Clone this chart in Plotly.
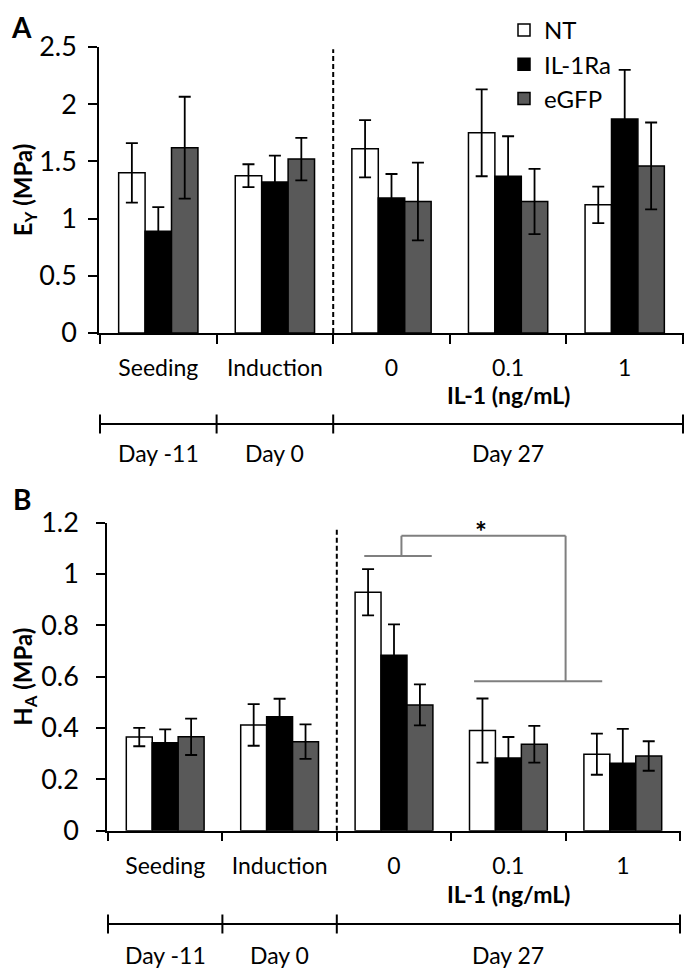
import plotly.graph_objects as go

# ---------------- data ----------------
categories = ["Seeding", "Induction", "0", "0.1", "1"]
series_names = ["NT", "IL-1Ra", "eGFP"]
series_colors = ["#ffffff", "#000000", "#595959"]

# Panel A: E_Y (MPa)
ey_nt = [1.40, 1.375, 1.61, 1.75, 1.12]
ey_nt_err = [0.26, 0.10, 0.25, 0.38, 0.16]
ey_il = [0.89, 1.32, 1.18, 1.37, 1.87]
ey_il_err = [0.21, 0.23, 0.21, 0.35, 0.43]
ey_gfp = [1.62, 1.52, 1.15, 1.15, 1.46]
ey_gfp_err = [0.445, 0.185, 0.34, 0.285, 0.38]

# Panel B: H_A (MPa)
ha_nt = [0.365, 0.412, 0.929, 0.39, 0.298]
ha_nt_err = [0.036, 0.081, 0.090, 0.125, 0.080]
ha_il = [0.343, 0.444, 0.684, 0.283, 0.263]
ha_il_err = [0.052, 0.070, 0.120, 0.082, 0.134]
ha_gfp = [0.366, 0.347, 0.49, 0.337, 0.291]
ha_gfp_err = [0.071, 0.067, 0.080, 0.0715, 0.0575]

day_labels = ["Day -11", "Day 0", "Day 27"]
day_spans = [1, 1, 3]          # number of categories each day covers

FONT = "Lato"
FS = 23       # category / legend text
FS_Y = 27     # y tick labels

# page has an 8px body margin; figure sized to fit the window
OFF = 8
W, H = 687, 970
def px(p):  # window pixel x -> paper x
    return (p - OFF) / W
def py(p):  # window pixel y (from top) -> paper y
    return 1 - (p - OFF) / H

fig = go.Figure()

panels = [
    dict(x="x", y="y", vals=[ey_nt, ey_il, ey_gfp], errs=[ey_nt_err, ey_il_err, ey_gfp_err], legend=True),
    dict(x="x2", y="y2", vals=[ha_nt, ha_il, ha_gfp], errs=[ha_nt_err, ha_il_err, ha_gfp_err], legend=False),
]
for p in panels:
    for name, col, v, e in zip(series_names, series_colors, p["vals"], p["errs"]):
        fig.add_trace(go.Bar(
            x=categories, y=v, name=name, xaxis=p["x"], yaxis=p["y"],
            marker=dict(color=col, line=dict(color="black", width=1.5)),
            error_y=dict(type="data", array=e, visible=True, color="black", thickness=1.8, width=6),
            showlegend=p["legend"],
        ))

axis_common = dict(showgrid=False, zeroline=False, showline=True, linecolor="black", linewidth=1.5,
                   ticks="outside", ticklen=9, tickwidth=1.5, tickcolor="black", automargin=False)
xfont = dict(family=FONT, size=FS, color="black")
yfont = dict(family=FONT, size=FS_Y, color="black")
tfont = dict(family=FONT, size=24, color="black", weight="bold")

fig.update_layout(
    width=W, height=H, margin=dict(l=0, r=0, t=0, b=0),
    template="none", plot_bgcolor="white", paper_bgcolor="white",
    barmode="group", bargap=0.32, bargroupgap=0,
    font=dict(family=FONT, size=FS, color="black"),
    xaxis=dict(domain=[px(99), px(684)], anchor="y", type="category", tickson="boundaries",
               ticklabelstandoff=14, tickfont=xfont, **axis_common),
    yaxis=dict(domain=[py(333), py(47)], anchor="x", range=[0, 2.5], dtick=0.5,
               ticklabelstandoff=6, tickfont=yfont,
               title=dict(text="E<sub>Y</sub> (MPa)", font=tfont, standoff=8), **axis_common),
    xaxis2=dict(domain=[px(107), px(681)], anchor="y2", type="category", tickson="boundaries",
                ticklabelstandoff=14, tickfont=xfont, **axis_common),
    yaxis2=dict(domain=[py(830.7), py(522.7)], anchor="x2", range=[0, 1.2], dtick=0.2,
                ticklabelstandoff=12, tickfont=yfont,
                title=dict(text="H<sub>A</sub> (MPa)", font=tfont, standoff=8), **axis_common),
    legend=dict(x=px(504), y=py(8), xanchor="left", yanchor="top", bgcolor="rgba(0,0,0,0)",
                font=dict(family=FONT, size=FS + 1, color="black"), itemclick=False),
)

shapes = []
annotations = []

# vertical dashed separators between Induction and IL-1 groups
for xr, yr, top in [("x", "y", 2.48), ("x2", "y2", 1.175)]:
    shapes.append(dict(type="line", xref=xr, yref=yr, x0=1.5, x1=1.5, y0=0, y1=top,
                       line=dict(color="black", width=2, dash="5px,3px")))

# timeline under each panel
bounds = [-0.5]
for s in day_spans:
    bounds.append(bounds[-1] + s)
for xr, yline, ylab, yil in [("x", 424, 453, 395), ("x2", 924, 955, 894)]:
    shapes.append(dict(type="line", xref=xr, yref="paper", x0=bounds[0], x1=bounds[-1],
                       y0=py(yline), y1=py(yline), line=dict(color="black", width=2)))
    for b in bounds:
        shapes.append(dict(type="line", xref=xr, yref="paper", x0=b, x1=b,
                           y0=py(yline - 9.5), y1=py(yline + 9.5), line=dict(color="black", width=2)))
    for lab, a, b in zip(day_labels, bounds[:-1], bounds[1:]):
        annotations.append(dict(text=lab, xref=xr, yref="paper", x=(a + b) / 2, y=py(ylab),
                                xanchor="center", yanchor="middle", showarrow=False,
                                font=dict(family=FONT, size=FS, color="black")))
    annotations.append(dict(text="<b>IL-1 (ng/mL)</b>", xref=xr, yref="paper", x=3, y=py(yil),
                            xanchor="center", yanchor="middle", showarrow=False,
                            font=dict(family=FONT, size=FS, color="black")))

# significance bracket (panel B)
gray = dict(color="#7f7f7f", width=2)
br = [
    (1.74, 1.07, 2.33, 1.07),
    (2.065, 1.07, 2.065, 1.149),
    (2.065, 1.149, 3.5, 1.149),
    (3.5, 1.149, 3.5, 0.582),
    (2.70, 0.582, 3.82, 0.582),
]
for x0, y0, x1, y1 in br:
    shapes.append(dict(type="line", xref="x2", yref="y2", x0=x0, y0=y0, x1=x1, y1=y1, line=gray))
annotations.append(dict(text="<b>*</b>", xref="x2", yref="y2", x=2.76, y=1.168, xanchor="center",
                        yanchor="middle", showarrow=False, font=dict(family=FONT, size=28, color="black")))

# panel letters
annotations.append(dict(text="<b>A</b>", xref="paper", yref="paper", x=px(9), y=1.0, xanchor="left",
                        yanchor="top", showarrow=False, font=dict(family=FONT, size=28, color="black")))
annotations.append(dict(text="<b>B</b>", xref="paper", yref="paper", x=px(11), y=py(499), xanchor="left",
                        yanchor="middle", showarrow=False, font=dict(family=FONT, size=28, color="black")))

fig.update_layout(shapes=shapes, annotations=annotations)
fig.write_html("out.html")
